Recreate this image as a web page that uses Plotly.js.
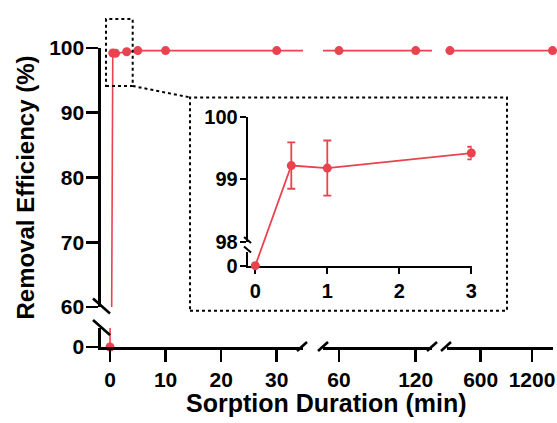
<!DOCTYPE html>
<html><head><meta charset="utf-8">
<script src="https://cdn.plot.ly/plotly-3.0.1.min.js"></script>
<style>html,body{margin:0;padding:0;background:#fff}#chart{width:557px;height:423px}</style>
</head><body><div id="chart"></div>
<script>
// ---- data ----
const timeMin = [0, 0.5, 1, 3, 5, 10, 30, 60, 120, 240, 1440];
const removalPct = [0, 99.22, 99.18, 99.42, 99.6, 99.6, 99.6, 99.6, 99.6, 99.6, 99.6];
const insetTime = [0, 0.5, 1, 3];
const insetRemoval = [0, 99.22, 99.18, 99.42];
const insetError = [0, 0.37, 0.44, 0.10];
const xSeg1Ticks = [0, 10, 20, 30];
const xSeg2Ticks = [60, 120];
const xSeg3Ticks = [600, 1200];
const yUpperTicks = [60, 70, 80, 90, 100];
const yLowerTicks = [0];
const insetXTicks = [0, 1, 2, 3];
const insetYUpperTicks = [98, 99, 100];
const insetYLowerTicks = [0];

// ---- style ----
const FONT = '"Liberation Sans", Arial, Helvetica, sans-serif';
const RED = '#E8434F';
const BLK = '#000000';

// inset broken y-scale: lower segment [0,1] is drawn just below 98
const INSET_UPPER_MIN = 98;
const INSET_LOW_DISP = [97.622, 97.84];
function insetDisp(v) {
  return v >= INSET_UPPER_MIN ? v : INSET_LOW_DISP[0] + v * (INSET_LOW_DISP[1] - INSET_LOW_DISP[0]);
}

function axisStyle(extra, small) {
  return Object.assign({
    showline: true, linecolor: BLK, linewidth: small ? 2 : 2.6,
    ticks: 'outside', ticklen: small ? 6 : 12, tickwidth: small ? 2 : 2.6, tickcolor: BLK,
    showgrid: false, zeroline: false, fixedrange: true,
    tickfont: {family: FONT, size: small ? 20 : 21, color: BLK, weight: 'bold'},
    tickmode: 'array'
  }, extra);
}

const mainSubplots = [['x', 'y'], ['x', 'y2'], ['x2', 'y'], ['x3', 'y']];
const traces = mainSubplots.map(([xa, ya]) => ({
  type: 'scatter', mode: 'lines+markers', x: timeMin, y: removalPct,
  xaxis: xa, yaxis: ya, cliponaxis: false, showlegend: false, hoverinfo: 'skip',
  line: {color: RED, width: 1.6},
  marker: {color: RED, size: 9}
}));

traces.push({
  type: 'scatter', mode: 'lines+markers', x: insetTime, y: insetRemoval.map(insetDisp),
  xaxis: 'x4', yaxis: 'y5', cliponaxis: false, showlegend: false, hoverinfo: 'skip',
  line: {color: RED, width: 1.8},
  marker: {color: RED, size: 9},
  error_y: {type: 'data', array: insetError, visible: true, color: RED, thickness: 1.8, width: 4}
});
// empty traces so the decorative inset axes are created
traces.push({type: 'scatter', x: [], y: [], xaxis: 'x4', yaxis: 'y3', showlegend: false});
traces.push({type: 'scatter', x: [], y: [], xaxis: 'x4', yaxis: 'y4', showlegend: false});

function slash(x0, y0, x1, y1, w) {
  return {type: 'line', xref: 'paper', yref: 'paper', x0, y0, x1, y1,
          line: {color: BLK, width: w || 2.6}, layer: 'above'};
}
function dotted(x0, y0, x1, y1, kind) {
  return {type: kind, xref: 'paper', yref: 'paper', x0, y0, x1, y1,
          line: {color: BLK, width: 2, dash: 'dot'}, layer: 'above'};
}

const layout = {
  width: 557, height: 423,
  margin: {l: 101, r: 4, t: 48, b: 76},
  paper_bgcolor: '#ffffff', plot_bgcolor: 'rgba(0,0,0,0)',
  showlegend: false,
  xaxis: axisStyle({domain: [0, 0.4469], range: [-1.62, 34.73], anchor: 'y2', tickvals: xSeg1Ticks}),
  xaxis2: axisStyle({domain: [0.4912, 0.7323], range: [47.5, 132.75], anchor: 'y2', tickvals: xSeg2Ticks}),
  xaxis3: axisStyle({domain: [0.7655, 1], range: [206, 1445.6], anchor: 'y2', tickvals: xSeg3Ticks}),
  yaxis: axisStyle({domain: [0.1338, 1], range: [60, 100], anchor: 'x', tickvals: yUpperTicks, ticklabelstandoff: -2}),
  yaxis2: axisStyle({domain: [0, 0.0635], range: [0, 2.94], anchor: 'x', tickvals: yLowerTicks, ticklabelstandoff: -2}),
  xaxis4: axisStyle({domain: [0.3246, 0.8201], range: [-0.105, 3.005], anchor: 'y4', tickvals: insetXTicks}, true),
  yaxis3: axisStyle({domain: [0.3512, 0.7702], range: [98, 100], anchor: 'x4', tickvals: insetYUpperTicks, ticklabelstandoff: -2}, true),
  yaxis4: axisStyle({domain: [0.2719, 0.3177], range: [0, 1], anchor: 'x4', tickvals: insetYLowerTicks, ticklabelstandoff: -2}, true),
  yaxis5: {domain: [0.2719, 0.7702], range: [INSET_LOW_DISP[0] - 0.001, 100], anchor: 'x4', visible: false, fixedrange: true},
  shapes: [
    // y-axis break (main)
    slash(-0.0177, 0.1622, 0.0199, 0.1120),
    slash(-0.0177, 0.0903, 0.0199, 0.0401),
    // x-axis breaks (main)
    slash(0.4336, -0.0134, 0.4558, 0.0167),
    slash(0.4801, -0.0134, 0.5022, 0.0167),
    slash(0.7212, -0.0134, 0.7434, 0.0167),
    slash(0.7522, -0.0134, 0.7743, 0.0167),
    // inset y break
    slash(0.3164, 0.3679, 0.3319, 0.3478, 2),
    slash(0.3164, 0.3361, 0.3319, 0.3161, 2),
    // zoom box, inset frame and connector
    dotted(0.0111, 0.8729, 0.0701, 1.097, 'rect'),
    dotted(0.1969, 0.1214, 0.8982, 0.8344, 'rect'),
    dotted(0.0701, 0.8729, 0.1980, 0.8344, 'line')
  ],
  annotations: [
    {text: 'Sorption Duration (min)', xref: 'paper', yref: 'paper', x: 0.4978, y: -0.187,
     xanchor: 'center', yanchor: 'middle', showarrow: false,
     font: {family: FONT, size: 25, color: BLK, weight: 'bold'}},
    {text: 'Removal Efficiency (%)', xref: 'paper', yref: 'paper', x: -0.1659, y: 0.5334,
     xanchor: 'center', yanchor: 'middle', showarrow: false, textangle: -90,
     font: {family: FONT, size: 24, color: BLK, weight: 'bold'}}
  ]
};

Plotly.newPlot('chart', traces, layout, {staticPlot: true, displayModeBar: false});
</script>
</body></html>
